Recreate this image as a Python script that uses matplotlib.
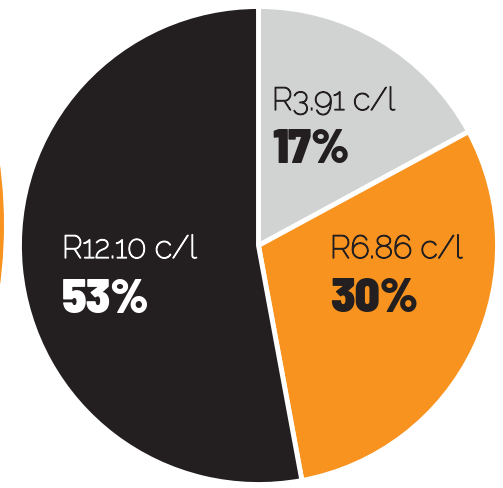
import matplotlib.pyplot as plt
import matplotlib.patheffects as pe
from matplotlib.patches import Circle

# Fuel price components (cents per litre)
labels = ['R3.91 c/l', 'R6.86 c/l', 'R12.10 c/l']
values = [3.91, 6.86, 12.10]
shares = ['17%', '30%', '53%']
colors = ['#d1d3d2', '#f7931e', '#231f20']
text_colors = ['#231f20', '#231f20', '#ffffff']

W, H = 503, 488

fig = plt.figure(figsize=(W / 100, H / 100), dpi=100)
ax = fig.add_axes([0, 0, 1, 1])

# Edge of the neighbouring chart peeking in on the left
ax.add_patch(Circle((4 - 452, H - 225), 452, color='#f7931e', lw=0))

ax.pie(values, colors=colors, startangle=90, counterclock=False,
       center=(258.5, H - 245.5), radius=239, explode=[0, 0, 0.026],
       wedgeprops=dict(edgecolor='white', linewidth=3.5), frame=True)
ax.set_xlim(0, W)
ax.set_ylim(0, H)
ax.set_aspect('equal')
ax.axis('off')

# Label positions (left x, baseline y) in pixels from top-left
label_pos = [(272, 110), (330, 258), (62, 258)]
share_pos = [(272, 163), (330, 312), (62, 313)]

for i in range(len(values)):
    x, y = label_pos[i]
    # the installed Raleway is thin, so thicken it a little with a stroke
    ax.text(x, H - y, labels[i], fontsize=23, family=['Raleway', 'Lato'],
            weight='normal', color=text_colors[i], ha='left', va='baseline',
            path_effects=[pe.withStroke(linewidth=0.9, foreground=text_colors[i])])
    x, y = share_pos[i]
    ax.text(x, H - y, shares[i], fontsize=35, family=['Barlow Semi Condensed', 'Roboto'],
            weight='black', color=text_colors[i], ha='left', va='baseline')

fig.savefig('out.png', dpi=100)
